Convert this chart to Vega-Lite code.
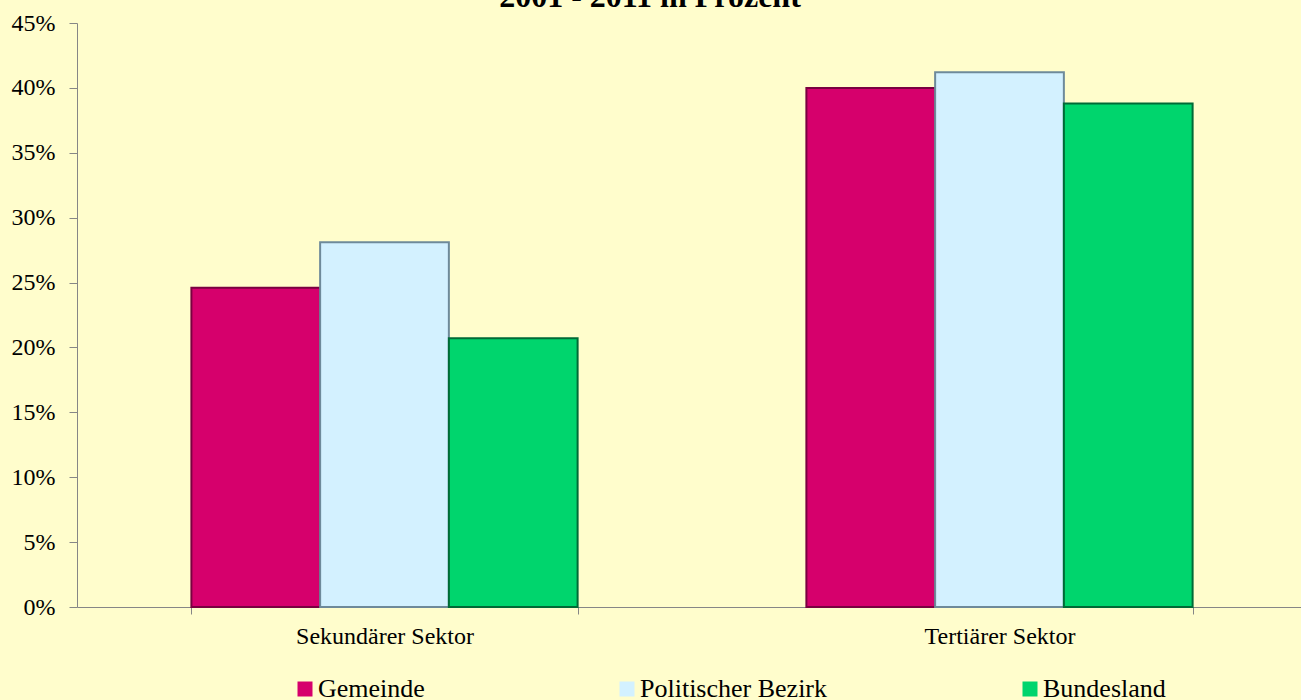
{
  "$schema": "https://vega.github.io/schema/vega-lite/v6.json",
  "autosize": {"type": "none"},
  "padding": {"left": 77, "top": 23, "right": 0, "bottom": 93},
  "width": 1230,
  "height": 584,
  "background": "#FFFDCC",
  "title": {
    "text": "2001 - 2011 in Prozent",
    "font": "Liberation Serif",
    "fontSize": 32,
    "fontWeight": "bold",
    "color": "#000000",
    "anchor": "middle",
    "offset": -3,
    "dx": -42
  },
  "data": {
    "values": [
      {"sektor": "Sekundärer Sektor", "gebiet": "Gemeinde", "wert": 24.6},
      {"sektor": "Sekundärer Sektor", "gebiet": "Politischer Bezirk", "wert": 28.1},
      {"sektor": "Sekundärer Sektor", "gebiet": "Bundesland", "wert": 20.7},
      {"sektor": "Tertiärer Sektor", "gebiet": "Gemeinde", "wert": 40.0},
      {"sektor": "Tertiärer Sektor", "gebiet": "Politischer Bezirk", "wert": 41.2},
      {"sektor": "Tertiärer Sektor", "gebiet": "Bundesland", "wert": 38.8}
    ]
  },
  "mark": {"type": "bar", "strokeWidth": 2},
  "encoding": {
    "x": {
      "field": "sektor",
      "type": "nominal",
      "sort": null,
      "scale": {"paddingInner": 0.372, "paddingOuter": 0.186},
      "axis": {
        "title": null,
        "labelAngle": 0,
        "labelFont": "Liberation Serif",
        "labelFontSize": 24,
        "labelColor": "#000000",
        "tickBand": "extent",
        "tickSize": 7,
        "labelPadding": 10,
        "domainColor": "#868686",
        "tickColor": "#868686",
        "grid": false
      }
    },
    "xOffset": {
      "field": "gebiet",
      "type": "nominal",
      "sort": ["Gemeinde", "Politischer Bezirk", "Bundesland"],
      "scale": {"paddingInner": 0, "paddingOuter": 0}
    },
    "y": {
      "field": "wert",
      "type": "quantitative",
      "scale": {"domain": [0, 45], "nice": false},
      "axis": {
        "title": null,
        "values": [0, 5, 10, 15, 20, 25, 30, 35, 40, 45],
        "labelExpr": "datum.value + '%'",
        "labelFont": "Liberation Serif",
        "labelFontSize": 24,
        "labelColor": "#000000",
        "tickSize": 8,
        "labelPadding": 14,
        "domainColor": "#868686",
        "tickColor": "#868686",
        "grid": false
      }
    },
    "color": {
      "field": "gebiet",
      "type": "nominal",
      "sort": ["Gemeinde", "Politischer Bezirk", "Bundesland"],
      "scale": {
        "domain": ["Gemeinde", "Politischer Bezirk", "Bundesland"],
        "range": ["#D6006C", "#D3F1FF", "#00D56D"]
      },
      "legend": {
        "title": null,
        "orient": "none",
        "legendX": 215,
        "legendY": 653,
        "direction": "horizontal",
        "columns": 3,
        "columnPadding": 189,
        "symbolType": "square",
        "symbolSize": 225,
        "symbolStrokeWidth": 0,
        "labelFont": "Liberation Serif",
        "labelFontSize": 26,
        "labelColor": "#000000",
        "labelOffset": 0,
        "labelLimit": 400
      }
    },
    "stroke": {
      "field": "gebiet",
      "type": "nominal",
      "scale": {
        "domain": ["Gemeinde", "Politischer Bezirk", "Bundesland"],
        "range": ["#7A0040", "#6E8A9A", "#006A36"]
      },
      "legend": null
    }
  },
  "config": {
    "view": {"stroke": null}
  }
}
